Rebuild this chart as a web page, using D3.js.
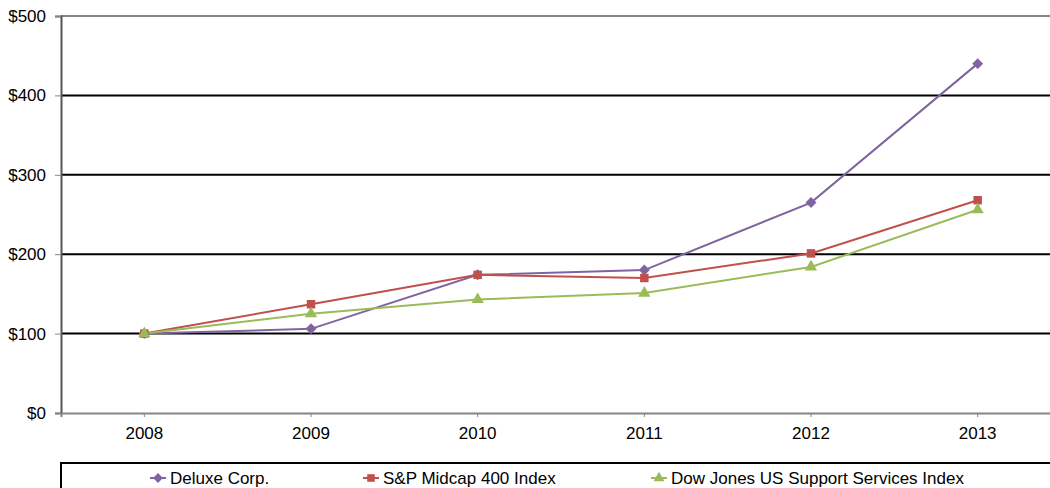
<!DOCTYPE html>
<html>
<head>
  <script src="https://d3js.org/d3.v7.min.js"></script>
  <style>
    body { margin: 0; background: #fff; overflow: hidden; }
    text { font-family: "Liberation Sans", Arial, sans-serif; }
  </style>
</head>
<body>
<svg id="chart" width="1050" height="488"></svg>
<script>
  // chart values
  const years = ["2008", "2009", "2010", "2011", "2012", "2013"];
  const deluxe = [100, 106, 174, 180, 265, 440];
  const spMidcap = [100, 137, 174, 170, 201, 268];
  const dowJones = [100, 125, 143, 151, 184, 256];
  const yTicks = [0, 100, 200, 300, 400, 500];

  // diamond = square turned 45 degrees
  const series = [
    { name: "Deluxe Corp.", values: deluxe, color: "#8064A2", shape: d3.symbolSquare, rot: 45, size: 60 },
    { name: "S&P Midcap 400 Index", values: spMidcap, color: "#C0504D", shape: d3.symbolSquare, rot: 0, size: 72 },
    { name: "Dow Jones US Support Services Index", values: dowJones, color: "#9BBB59", shape: d3.symbolTriangle, rot: 0, size: 65 }
  ];

  const margin = { top: 16, left: 61 };
  const plotW = 1000, plotH = 397;

  const svg = d3.select("#chart");
  const g = svg.append("g").attr("transform", `translate(${margin.left}, ${margin.top})`);

  const x = d3.scaleBand().domain(years).range([0, plotW]);
  const y = d3.scaleLinear().domain([0, 500]).range([plotH, 0]);

  // gridlines
  g.selectAll(".grid")
    .data(yTicks.filter(d => d > 0))
    .enter().append("line")
    .attr("x1", 0).attr("x2", plotW)
    .attr("y1", d => y(d)).attr("y2", d => y(d))
    .attr("stroke", d => d === 500 ? "#868686" : "#000")
    .attr("stroke-width", 2);

  // y axis
  const yAxis = g.append("g")
    .call(d3.axisLeft(y).tickValues(yTicks).tickSize(6).tickPadding(9).tickFormat(d => "$" + d));
  yAxis.select(".domain").attr("stroke", "#555").attr("stroke-width", 2);
  yAxis.selectAll(".tick line").attr("stroke", "#868686");
  yAxis.selectAll("text").attr("font-size", 17).attr("fill", "#000");

  // x axis
  const xAxis = g.append("g")
    .attr("transform", `translate(0, ${plotH})`)
    .call(d3.axisBottom(x).tickSize(4).tickPadding(10));
  xAxis.select(".domain").attr("stroke", "#868686").attr("stroke-width", 2);
  xAxis.selectAll(".tick line").attr("stroke", "#868686");
  xAxis.selectAll("text").attr("font-size", 17).attr("fill", "#000");

  const cx = d => x(d) + x.bandwidth() / 2;

  const line = d3.line()
    .x((d, i) => cx(years[i]))
    .y(d => y(d));

  series.forEach(s => {
    g.append("path")
      .datum(s.values)
      .attr("fill", "none")
      .attr("stroke", s.color)
      .attr("stroke-width", 2)
      .attr("d", line);
  });

  series.forEach(s => {
    g.selectAll(null)
      .data(s.values)
      .enter().append("path")
      .attr("transform", (d, i) => `translate(${cx(years[i])}, ${y(d)}) rotate(${s.rot})`)
      .attr("d", d3.symbol().type(s.shape).size(s.size))
      .attr("fill", s.color);
  });

  // legend
  const legend = svg.append("g").attr("transform", "translate(61, 463)");
  legend.append("rect")
    .attr("x", 0).attr("y", 0)
    .attr("width", 1100).attr("height", 40)
    .attr("fill", "#fff")
    .attr("stroke", "#000")
    .attr("stroke-width", 2);

  const legendX = [97, 310, 598];
  series.forEach((s, i) => {
    const item = legend.append("g").attr("transform", `translate(${legendX[i]}, 15)`);
    item.append("line").attr("x1", -8).attr("x2", 8).attr("stroke", s.color).attr("stroke-width", 2);
    item.append("path")
      .attr("transform", `rotate(${s.rot})`)
      .attr("d", d3.symbol().type(s.shape).size(s.size * 0.8))
      .attr("fill", s.color);
    item.append("text")
      .attr("x", 12).attr("y", 6)
      .attr("font-size", 17)
      .text(s.name);
  });
</script>
</body>
</html>
